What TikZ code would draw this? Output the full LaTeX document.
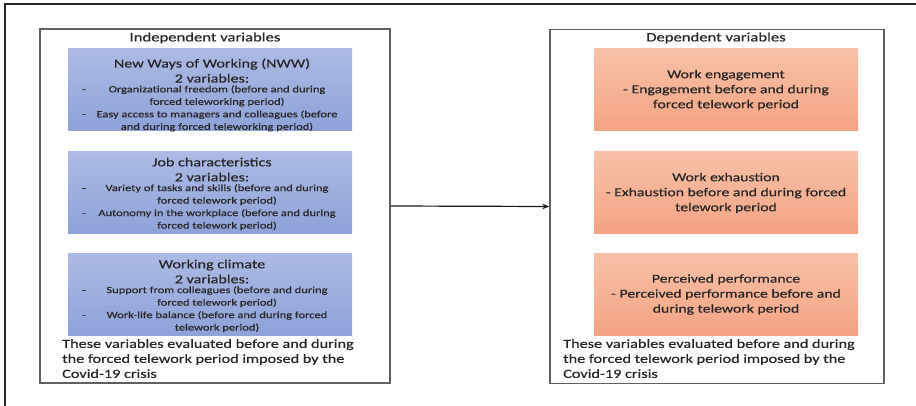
\documentclass[tikz,border=0pt]{standalone}
\usepackage{fontspec}
\usepackage{array}
\setmainfont{Carlito}[FakeStretch=1.3,FakeBold=0.4]
\usetikzlibrary{arrows.meta}
\definecolor{bluetop}{HTML}{ACBAE4}
\definecolor{bluebot}{HTML}{8EA2D9}
\definecolor{orgtop}{HTML}{F7C1A8}
\definecolor{orgbot}{HTML}{F4A382}
\definecolor{panelgray}{HTML}{606060}
\definecolor{txt}{HTML}{262626}
\newcommand\bsm{\fontsize{9.6}{12}\selectfont}
\newenvironment{blist}{\bsm\renewcommand\arraystretch{1.04}\begin{tabular}{@{}p{10pt}@{}>{\centering\arraybackslash}p{250pt}@{}}}{\end{tabular}}
\tikzset{
  panelbox/.style={draw=panelgray, line width=1.4pt, minimum width=350pt, minimum height=354pt, inner sep=0pt},
  ptitle/.style={font=\fontsize{12.8}{15}\selectfont, text=txt, inner sep=0pt},
  bluebox/.style={top color=bluetop, bottom color=bluebot, draw=none, minimum width=284pt, minimum height=82pt, inner sep=0pt},
  orgbox/.style={top color=orgtop, bottom color=orgbot, draw=none, minimum width=264pt, minimum height=82pt, align=center, text=txt, inner sep=0pt, font=\fontsize{12.1}{15}\selectfont},
  bluetext/.style={align=center, text=txt, inner sep=0pt, font=\fontsize{12.4}{14}\selectfont},
  foot/.style={anchor=north west, align=left, text=txt, inner sep=0pt, font=\fontsize{12.5}{15}\selectfont}
}
\begin{document}
\begin{tikzpicture}[x=1pt,y=-1pt]
\useasboundingbox (0,0) rectangle (916,406);
\fill[white] (0,0) rectangle (916,406);
\draw[line width=1.3pt, black!85] (5,407) -- (5,4) -- (917,4);
% panels
\node[panelbox] (indep) at (215,206) {};
\node[panelbox, minimum width=334pt] (dep) at (717,206.5) {};
\node[ptitle] (indeptitle) at (205,38) {Independent variables};
\node[ptitle] (deptitle) at (716,38) {Dependent variables};
% blue boxes
\node[bluebox] (nww) at (210,90) {};
\node[bluebox] (job) at (210,193) {};
\node[bluebox] (clim) at (210,294.5) {};
\node[bluetext] (nwwtext) at (212,96) {New Ways of Working (NWW)\\[1pt]2 variables:\\[0pt]
  \begin{blist}
  - & Organizational freedom (before and during\\
    & forced teleworking period)\\
  - & Easy access to managers and colleagues (before\\
    & and during forced teleworking period)
  \end{blist}};
\node[bluetext] (jobtext) at (212,195) {Job characteristics\\[1pt]2 variables:\\[0pt]
  \begin{blist}
  - & Variety of tasks and skills (before and during\\
    & forced telework period)\\
  - & Autonomy in the workplace (before and during\\
    & forced telework period)
  \end{blist}};
\node[bluetext] (climtext) at (212,297) {Working climate\\[1pt]2 variables:\\[0pt]
  \begin{blist}
  - & Support from colleagues (before and during\\
    & forced telework period)\\
  - & Work-life balance (before and during forced\\
    & telework period)
  \end{blist}};
% orange boxes
\node[orgbox] (eng) at (726,90) {Work engagement\\- Engagement before and during\\forced telework period};
\node[orgbox] (exh) at (726,193) {Work exhaustion\\- Exhaustion before and during forced\\telework period};
\node[orgbox] (perf) at (726,294.5) {Perceived performance\\- Perceived performance before and\\during telework period};
% footers
\node[foot] (indepfoot) at (62,339) {These variables evaluated before and during\\the forced telework period imposed by the\\Covid-19 crisis};
\node[foot] (depfoot) at (563,339) {These variables evaluated before and during\\the forced telework period imposed by the\\Covid-19 crisis};
% arrow
\draw[line width=1.2pt, black!90, -{Stealth[length=7pt,width=5.5pt]}] (indep.east) -- (dep.west);
\end{tikzpicture}
\end{document}
